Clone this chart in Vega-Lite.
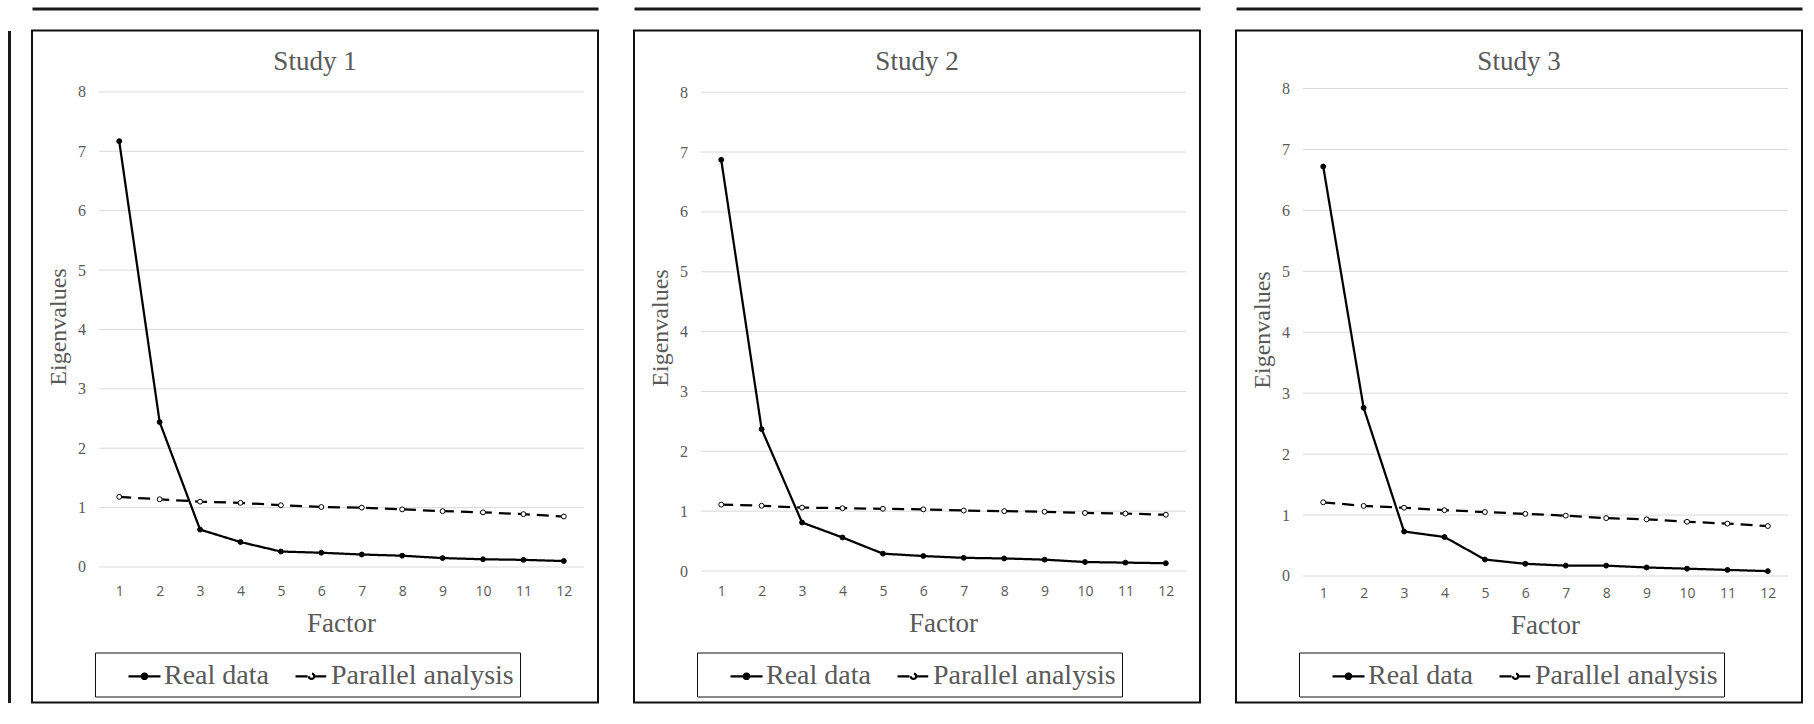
{
  "$schema": "https://vega.github.io/schema/vega-lite/v6.json",
  "background": "white",
  "padding": {"left": 8, "top": 7.5, "right": 0, "bottom": 0},
  "spacing": 34,
  "resolve": {"scale": {"strokeDash": "independent", "fill": "independent"}, "legend": {"strokeDash": "independent", "fill": "independent"}},
  "config": {
    "view": {"stroke": "#111111", "strokeWidth": 2, "fill": "white"},
    "title": {"font": "Liberation Serif", "fontSize": 27, "fontWeight": "normal", "color": "#595959", "anchor": "middle", "frame": "group", "baseline": "alphabetic", "offset": -67},
    "legend": {"orient": "none", "legendX": 63, "legendY": 622, "direction": "horizontal", "titleOrient": "left", "titleFont": "Liberation Serif", "titleFontSize": 28, "titleFontWeight": "normal", "titlePadding": 16, "titleColor": "white", "strokeColor": "#111111", "padding": 6, "columnPadding": 22, "labelFont": "Liberation Serif", "labelFontSize": 28, "labelColor": "#595959", "labelOffset": 2, "labelLimit": 400, "symbolType": "M-1,0H-0.17M0.17,0H1M-0.17,0A0.17,0.17 0 1,0 0.17,0A0.17,0.17 0 1,0 -0.17,0Z", "symbolSize": 1024, "symbolStrokeColor": "black", "symbolStrokeWidth": 2.25}
  },
  "datasets": {
    "grid": [{"g": 0}, {"g": 1}, {"g": 2}, {"g": 3}, {"g": 4}, {"g": 5}, {"g": 6}, {"g": 7}, {"g": 8}],
    "eig": [
      {"study": "Study 1", "series": "Real data", "factor": 1, "value": 7.17},
      {"study": "Study 1", "series": "Real data", "factor": 2, "value": 2.44},
      {"study": "Study 1", "series": "Real data", "factor": 3, "value": 0.63},
      {"study": "Study 1", "series": "Real data", "factor": 4, "value": 0.42},
      {"study": "Study 1", "series": "Real data", "factor": 5, "value": 0.26},
      {"study": "Study 1", "series": "Real data", "factor": 6, "value": 0.24},
      {"study": "Study 1", "series": "Real data", "factor": 7, "value": 0.21},
      {"study": "Study 1", "series": "Real data", "factor": 8, "value": 0.19},
      {"study": "Study 1", "series": "Real data", "factor": 9, "value": 0.15},
      {"study": "Study 1", "series": "Real data", "factor": 10, "value": 0.13},
      {"study": "Study 1", "series": "Real data", "factor": 11, "value": 0.12},
      {"study": "Study 1", "series": "Real data", "factor": 12, "value": 0.10},
      {"study": "Study 1", "series": "Parallel analysis", "factor": 1, "value": 1.18},
      {"study": "Study 1", "series": "Parallel analysis", "factor": 2, "value": 1.14},
      {"study": "Study 1", "series": "Parallel analysis", "factor": 3, "value": 1.10},
      {"study": "Study 1", "series": "Parallel analysis", "factor": 4, "value": 1.08},
      {"study": "Study 1", "series": "Parallel analysis", "factor": 5, "value": 1.04},
      {"study": "Study 1", "series": "Parallel analysis", "factor": 6, "value": 1.01},
      {"study": "Study 1", "series": "Parallel analysis", "factor": 7, "value": 1.00},
      {"study": "Study 1", "series": "Parallel analysis", "factor": 8, "value": 0.97},
      {"study": "Study 1", "series": "Parallel analysis", "factor": 9, "value": 0.94},
      {"study": "Study 1", "series": "Parallel analysis", "factor": 10, "value": 0.92},
      {"study": "Study 1", "series": "Parallel analysis", "factor": 11, "value": 0.89},
      {"study": "Study 1", "series": "Parallel analysis", "factor": 12, "value": 0.85},
      {"study": "Study 2", "series": "Real data", "factor": 1, "value": 6.87},
      {"study": "Study 2", "series": "Real data", "factor": 2, "value": 2.37},
      {"study": "Study 2", "series": "Real data", "factor": 3, "value": 0.81},
      {"study": "Study 2", "series": "Real data", "factor": 4, "value": 0.56},
      {"study": "Study 2", "series": "Real data", "factor": 5, "value": 0.29},
      {"study": "Study 2", "series": "Real data", "factor": 6, "value": 0.25},
      {"study": "Study 2", "series": "Real data", "factor": 7, "value": 0.22},
      {"study": "Study 2", "series": "Real data", "factor": 8, "value": 0.21},
      {"study": "Study 2", "series": "Real data", "factor": 9, "value": 0.19},
      {"study": "Study 2", "series": "Real data", "factor": 10, "value": 0.15},
      {"study": "Study 2", "series": "Real data", "factor": 11, "value": 0.14},
      {"study": "Study 2", "series": "Real data", "factor": 12, "value": 0.13},
      {"study": "Study 2", "series": "Parallel analysis", "factor": 1, "value": 1.11},
      {"study": "Study 2", "series": "Parallel analysis", "factor": 2, "value": 1.09},
      {"study": "Study 2", "series": "Parallel analysis", "factor": 3, "value": 1.06},
      {"study": "Study 2", "series": "Parallel analysis", "factor": 4, "value": 1.05},
      {"study": "Study 2", "series": "Parallel analysis", "factor": 5, "value": 1.04},
      {"study": "Study 2", "series": "Parallel analysis", "factor": 6, "value": 1.03},
      {"study": "Study 2", "series": "Parallel analysis", "factor": 7, "value": 1.01},
      {"study": "Study 2", "series": "Parallel analysis", "factor": 8, "value": 1.00},
      {"study": "Study 2", "series": "Parallel analysis", "factor": 9, "value": 0.99},
      {"study": "Study 2", "series": "Parallel analysis", "factor": 10, "value": 0.97},
      {"study": "Study 2", "series": "Parallel analysis", "factor": 11, "value": 0.96},
      {"study": "Study 2", "series": "Parallel analysis", "factor": 12, "value": 0.94},
      {"study": "Study 3", "series": "Real data", "factor": 1, "value": 6.72},
      {"study": "Study 3", "series": "Real data", "factor": 2, "value": 2.76},
      {"study": "Study 3", "series": "Real data", "factor": 3, "value": 0.73},
      {"study": "Study 3", "series": "Real data", "factor": 4, "value": 0.64},
      {"study": "Study 3", "series": "Real data", "factor": 5, "value": 0.27},
      {"study": "Study 3", "series": "Real data", "factor": 6, "value": 0.20},
      {"study": "Study 3", "series": "Real data", "factor": 7, "value": 0.17},
      {"study": "Study 3", "series": "Real data", "factor": 8, "value": 0.17},
      {"study": "Study 3", "series": "Real data", "factor": 9, "value": 0.14},
      {"study": "Study 3", "series": "Real data", "factor": 10, "value": 0.12},
      {"study": "Study 3", "series": "Real data", "factor": 11, "value": 0.10},
      {"study": "Study 3", "series": "Real data", "factor": 12, "value": 0.08},
      {"study": "Study 3", "series": "Parallel analysis", "factor": 1, "value": 1.21},
      {"study": "Study 3", "series": "Parallel analysis", "factor": 2, "value": 1.15},
      {"study": "Study 3", "series": "Parallel analysis", "factor": 3, "value": 1.12},
      {"study": "Study 3", "series": "Parallel analysis", "factor": 4, "value": 1.08},
      {"study": "Study 3", "series": "Parallel analysis", "factor": 5, "value": 1.05},
      {"study": "Study 3", "series": "Parallel analysis", "factor": 6, "value": 1.02},
      {"study": "Study 3", "series": "Parallel analysis", "factor": 7, "value": 0.99},
      {"study": "Study 3", "series": "Parallel analysis", "factor": 8, "value": 0.95},
      {"study": "Study 3", "series": "Parallel analysis", "factor": 9, "value": 0.93},
      {"study": "Study 3", "series": "Parallel analysis", "factor": 10, "value": 0.89},
      {"study": "Study 3", "series": "Parallel analysis", "factor": 11, "value": 0.86},
      {"study": "Study 3", "series": "Parallel analysis", "factor": 12, "value": 0.82}
    ]
  },
  "hconcat": [
    {
      "width": 566, "height": 672,
      "title": {"text": "Study 1"},
      "data": {"name": "eig"},
      "transform": [{"filter": "datum.study === 'Study 1'"}],
      "resolve": {"axis": {"x": "independent", "y": "independent"}},
      "layer": [
        {
          "data": {"name": "grid"},
          "mark": {"type": "rule", "color": "#d9d9d9", "strokeWidth": 1},
          "encoding": {
            "x": {"datum": 0.5, "type": "quantitative", "scale": {"domain": [-1.158, 12.845], "nice": false, "zero": false}, "axis": null},
            "x2": {"datum": 12.5},
            "y": {"field": "g", "type": "quantitative", "scale": {"domain": [-2.282, 9.034], "nice": false, "zero": false}, "axis": null}
          }
        },
        {
          "mark": {"type": "line", "color": "black", "strokeWidth": 2.25},
          "encoding": {
            "x": {"field": "factor", "type": "quantitative", "scale": {"domain": [-1.158, 12.845], "nice": false, "zero": false},
              "axis": {"values": [1,2,3,4,5,6,7,8,9,10,11,12], "orient": "bottom", "offset": -122, "domain": false, "ticks": false, "grid": false, "labelPadding": 4, "labelFont": "Open Sans", "labelFontSize": 14, "labelColor": "#595959", "title": "Factor", "titleFont": "Liberation Serif", "titleFontSize": 27, "titleFontWeight": "normal", "titleColor": "#595959", "titleX": 309, "titleY": 51, "titleBaseline": "alphabetic", "titleAlign": "center"}},
            "y": {"field": "value", "type": "quantitative", "scale": {"domain": [-2.282, 9.034], "nice": false, "zero": false},
              "axis": {"values": [0,1,2,3,4,5,6,7,8], "orient": "left", "offset": -56.5, "domain": false, "ticks": false, "grid": false, "labelPadding": 3, "labelFont": "Liberation Serif", "labelFontSize": 16, "labelColor": "#595959", "title": "Eigenvalues", "titleFont": "Liberation Serif", "titleFontSize": 24, "titleFontWeight": "normal", "titleColor": "#595959", "titleX": -23, "titleY": 296, "titleAngle": 270, "titleBaseline": "alphabetic", "titleAlign": "center"}},
            "strokeDash": {"field": "series", "type": "nominal", "scale": {"domain": ["Real data", "Parallel analysis"], "range": [[1, 0], [12, 7]]},
              "legend": {"title": "I",
                "encode": {"symbols": {"update": {"fill": {"signal": "datum.value === 'Real data' ? 'black' : 'white'"}, "stroke": {"value": "black"}, "strokeDash": {"value": [1, 0]}, "opacity": {"value": 1}}}}}}
          }
        },
        {
          "mark": {"type": "point", "shape": "circle", "filled": true, "size": 24, "stroke": "black", "strokeWidth": 1, "opacity": 1},
          "encoding": {
            "x": {"field": "factor", "type": "quantitative", "scale": {"domain": [-1.158, 12.845], "nice": false, "zero": false},
              "axis": {"orient": "top", "offset": 22, "domain": true, "domainColor": "#1a1a1a", "domainWidth": 3, "labels": false, "ticks": false, "grid": false, "title": null}},
            "y": {"field": "value", "type": "quantitative", "scale": {"domain": [-2.282, 9.034], "nice": false, "zero": false},
              "axis": {"orient": "left", "offset": 23, "domain": true, "domainColor": "#1a1a1a", "domainWidth": 3, "labels": false, "ticks": false, "grid": false, "title": null}},
            "fill": {"field": "series", "type": "nominal", "scale": {"domain": ["Real data", "Parallel analysis"], "range": ["black", "white"]}, "legend": null}
          }
        }
      ]
    },
    {
      "width": 566, "height": 672,
      "title": {"text": "Study 2"},
      "data": {"name": "eig"},
      "transform": [{"filter": "datum.study === 'Study 2'"}],
      "resolve": {"axis": {"x": "independent", "y": "independent"}},
      "layer": [
        {
          "data": {"name": "grid"},
          "mark": {"type": "rule", "color": "#d9d9d9", "strokeWidth": 1},
          "encoding": {
            "x": {"datum": 0.5, "type": "quantitative", "scale": {"domain": [-1.158, 12.845], "nice": false, "zero": false}, "axis": null},
            "x2": {"datum": 12.5},
            "y": {"field": "g", "type": "quantitative", "scale": {"domain": [-2.197, 9.031], "nice": false, "zero": false}, "axis": null}
          }
        },
        {
          "mark": {"type": "line", "color": "black", "strokeWidth": 2.25},
          "encoding": {
            "x": {"field": "factor", "type": "quantitative", "scale": {"domain": [-1.158, 12.845], "nice": false, "zero": false},
              "axis": {"values": [1,2,3,4,5,6,7,8,9,10,11,12], "orient": "bottom", "offset": -122, "domain": false, "ticks": false, "grid": false, "labelPadding": 4, "labelFont": "Open Sans", "labelFontSize": 14, "labelColor": "#595959", "title": "Factor", "titleFont": "Liberation Serif", "titleFontSize": 27, "titleFontWeight": "normal", "titleColor": "#595959", "titleX": 309, "titleY": 51, "titleBaseline": "alphabetic", "titleAlign": "center"}},
            "y": {"field": "value", "type": "quantitative", "scale": {"domain": [-2.197, 9.031], "nice": false, "zero": false},
              "axis": {"values": [0,1,2,3,4,5,6,7,8], "orient": "left", "offset": -56.5, "domain": false, "ticks": false, "grid": false, "labelPadding": 3, "labelFont": "Liberation Serif", "labelFontSize": 16, "labelColor": "#595959", "title": "Eigenvalues", "titleFont": "Liberation Serif", "titleFontSize": 24, "titleFontWeight": "normal", "titleColor": "#595959", "titleX": -23, "titleY": 297, "titleAngle": 270, "titleBaseline": "alphabetic", "titleAlign": "center"}},
            "strokeDash": {"field": "series", "type": "nominal", "scale": {"domain": ["Real data", "Parallel analysis"], "range": [[1, 0], [12, 7]]},
              "legend": {"title": "I",
                "encode": {"symbols": {"update": {"fill": {"signal": "datum.value === 'Real data' ? 'black' : 'white'"}, "stroke": {"value": "black"}, "strokeDash": {"value": [1, 0]}, "opacity": {"value": 1}}}}}}
          }
        },
        {
          "mark": {"type": "point", "shape": "circle", "filled": true, "size": 24, "stroke": "black", "strokeWidth": 1, "opacity": 1},
          "encoding": {
            "x": {"field": "factor", "type": "quantitative", "scale": {"domain": [-1.158, 12.845], "nice": false, "zero": false},
              "axis": {"orient": "top", "offset": 22, "domain": true, "domainColor": "#1a1a1a", "domainWidth": 3, "labels": false, "ticks": false, "grid": false, "title": null}},
            "y": {"field": "value", "type": "quantitative", "scale": {"domain": [-2.197, 9.031], "nice": false, "zero": false}, "axis": null},
            "fill": {"field": "series", "type": "nominal", "scale": {"domain": ["Real data", "Parallel analysis"], "range": ["black", "white"]}, "legend": null}
          }
        }
      ]
    },
    {
      "width": 566, "height": 672,
      "title": {"text": "Study 3"},
      "data": {"name": "eig"},
      "transform": [{"filter": "datum.study === 'Study 3'"}],
      "resolve": {"axis": {"x": "independent", "y": "independent"}},
      "layer": [
        {
          "data": {"name": "grid"},
          "mark": {"type": "rule", "color": "#d9d9d9", "strokeWidth": 1},
          "encoding": {
            "x": {"datum": 0.5, "type": "quantitative", "scale": {"domain": [-1.158, 12.845], "nice": false, "zero": false}, "axis": null},
            "x2": {"datum": 12.5},
            "y": {"field": "g", "type": "quantitative", "scale": {"domain": [-2.076, 8.952], "nice": false, "zero": false}, "axis": null}
          }
        },
        {
          "mark": {"type": "line", "color": "black", "strokeWidth": 2.25},
          "encoding": {
            "x": {"field": "factor", "type": "quantitative", "scale": {"domain": [-1.158, 12.845], "nice": false, "zero": false},
              "axis": {"values": [1,2,3,4,5,6,7,8,9,10,11,12], "orient": "bottom", "offset": -120, "domain": false, "ticks": false, "grid": false, "labelPadding": 4, "labelFont": "Open Sans", "labelFontSize": 14, "labelColor": "#595959", "title": "Factor", "titleFont": "Liberation Serif", "titleFontSize": 27, "titleFontWeight": "normal", "titleColor": "#595959", "titleX": 309, "titleY": 51, "titleBaseline": "alphabetic", "titleAlign": "center"}},
            "y": {"field": "value", "type": "quantitative", "scale": {"domain": [-2.076, 8.952], "nice": false, "zero": false},
              "axis": {"values": [0,1,2,3,4,5,6,7,8], "orient": "left", "offset": -56.5, "domain": false, "ticks": false, "grid": false, "labelPadding": 3, "labelFont": "Liberation Serif", "labelFontSize": 16, "labelColor": "#595959", "title": "Eigenvalues", "titleFont": "Liberation Serif", "titleFontSize": 24, "titleFontWeight": "normal", "titleColor": "#595959", "titleX": -23, "titleY": 299, "titleAngle": 270, "titleBaseline": "alphabetic", "titleAlign": "center"}},
            "strokeDash": {"field": "series", "type": "nominal", "scale": {"domain": ["Real data", "Parallel analysis"], "range": [[1, 0], [12, 7]]},
              "legend": {"title": "I",
                "encode": {"symbols": {"update": {"fill": {"signal": "datum.value === 'Real data' ? 'black' : 'white'"}, "stroke": {"value": "black"}, "strokeDash": {"value": [1, 0]}, "opacity": {"value": 1}}}}}}
          }
        },
        {
          "mark": {"type": "point", "shape": "circle", "filled": true, "size": 24, "stroke": "black", "strokeWidth": 1, "opacity": 1},
          "encoding": {
            "x": {"field": "factor", "type": "quantitative", "scale": {"domain": [-1.158, 12.845], "nice": false, "zero": false},
              "axis": {"orient": "top", "offset": 22, "domain": true, "domainColor": "#1a1a1a", "domainWidth": 3, "labels": false, "ticks": false, "grid": false, "title": null}},
            "y": {"field": "value", "type": "quantitative", "scale": {"domain": [-2.076, 8.952], "nice": false, "zero": false}, "axis": null},
            "fill": {"field": "series", "type": "nominal", "scale": {"domain": ["Real data", "Parallel analysis"], "range": ["black", "white"]}, "legend": null}
          }
        }
      ]
    }
  ]
}
